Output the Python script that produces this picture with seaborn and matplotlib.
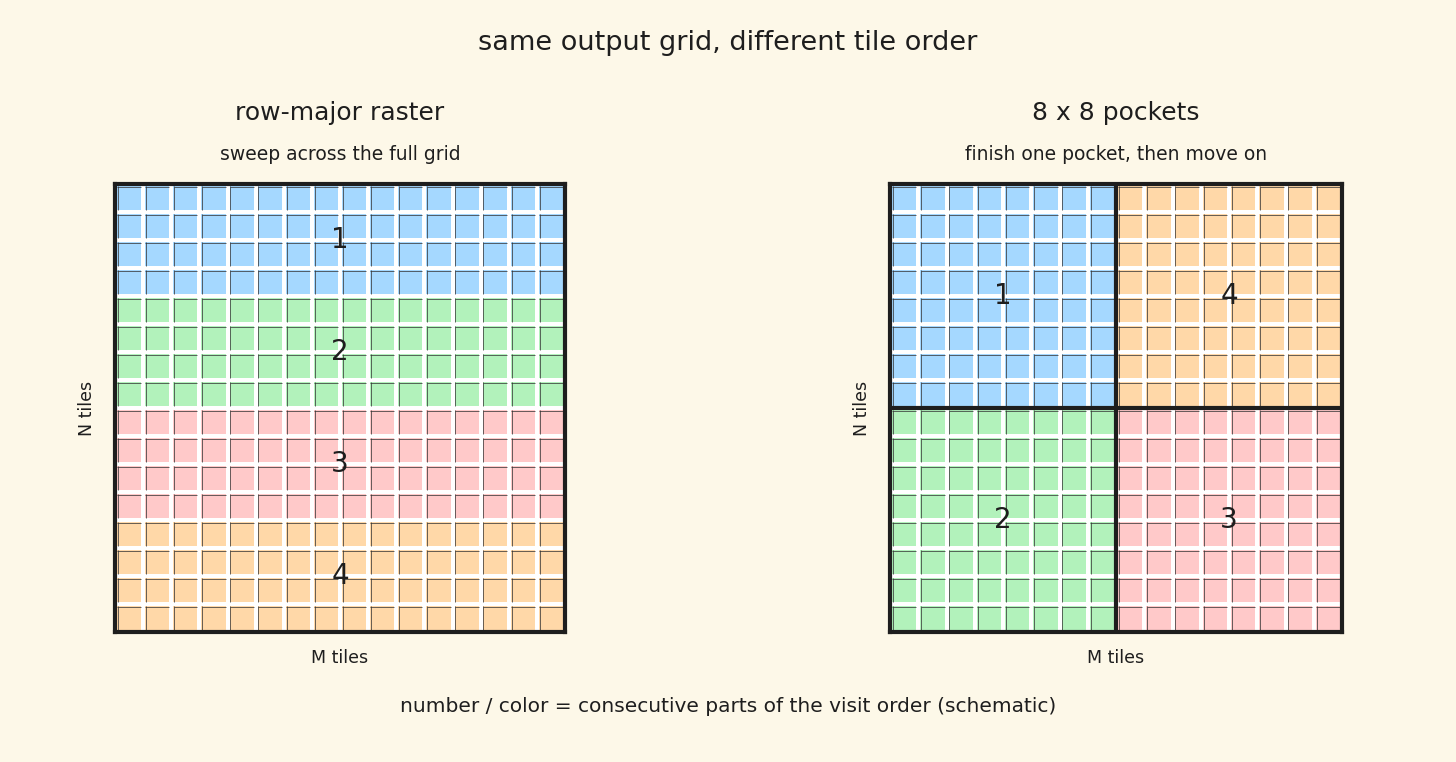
import numpy as np
import matplotlib
matplotlib.use("Agg")
import matplotlib.pyplot as plt
from matplotlib.colors import ListedColormap
import seaborn as sns

# chart data
n_tiles = 16
band_rows = 4          # left: 4 consecutive rows per part
pocket = 8             # right: 8 x 8 pockets
part_labels = ["1", "2", "3", "4"]
part_colors = ["#a5d8ff", "#b2f2bb", "#ffc9c9", "#ffd8a8"]
# pocket visit order: (row block, col block) for parts 1..4
pocket_order = [(0, 0), (1, 0), (1, 1), (0, 1)]

title = "same output grid, different tile order"
panel_titles = ["row-major raster", "8 x 8 pockets"]
panel_subtitles = ["sweep across the full grid", "finish one pocket, then move on"]
x_label = "M tiles"
y_label = "N tiles"
footer = "number / color = consecutive parts of the visit order (schematic)"

bg = "#fdf8e8"
ink = "#1e1e1e"

# part index per tile
raster = np.repeat(np.arange(4), band_rows)[:, None] * np.ones((1, n_tiles), dtype=int)
pockets = np.zeros((n_tiles, n_tiles), dtype=int)
for k, (r, c) in enumerate(pocket_order):
    pockets[r * pocket:(r + 1) * pocket, c * pocket:(c + 1) * pocket] = k

sns.set_theme(style="white")
plt.rcParams["font.family"] = ["DejaVu Sans"]

fig = plt.figure(figsize=(14.56, 7.62), dpi=100, facecolor=bg)
ax_l = fig.add_axes([115 / 1456, 1 - 632 / 762, 450 / 1456, 448 / 762])
ax_r = fig.add_axes([890 / 1456, 1 - 632 / 762, 452 / 1456, 448 / 762])

cmap = ListedColormap(part_colors)


def draw_grid(ax, grid):
    sns.heatmap(grid, ax=ax, cmap=cmap, vmin=-0.5, vmax=3.5, cbar=False,
                linewidths=2.8, linecolor="white", square=False,
                xticklabels=False, yticklabels=False)
    # sketchy dark edge on top/left of each tile
    xs = np.arange(n_tiles)
    for i in range(n_tiles):
        ax.vlines(xs + 0.1, i + 0.08, i + 0.93, color="#333333", lw=0.7, alpha=0.75)
        ax.hlines(np.full(n_tiles, i + 0.1), xs + 0.08, xs + 0.93,
                  color="#333333", lw=0.7, alpha=0.75)
    ax.set_xlim(0, n_tiles)
    ax.set_ylim(n_tiles, 0)
    for s in ax.spines.values():
        s.set_visible(True)
        s.set_color(ink)
        s.set_linewidth(3)
    ax.set_xlabel(x_label, fontsize=12.5, color=ink, labelpad=12)
    ax.set_ylabel(y_label, fontsize=12.5, color=ink, labelpad=14)


draw_grid(ax_l, raster)
for k, lab in enumerate(part_labels):
    ax_l.text(n_tiles / 2, k * band_rows + band_rows / 2, lab, ha="center", va="center",
              fontsize=20, color=ink)

draw_grid(ax_r, pockets)
ax_r.axvline(pocket, color=ink, lw=3)
ax_r.axhline(pocket, color=ink, lw=3)
for k, (r, c) in enumerate(pocket_order):
    ax_r.text(c * pocket + pocket / 2, r * pocket + pocket / 2, part_labels[k],
              ha="center", va="center", fontsize=20, color=ink)

for ax, t, st in zip([ax_l, ax_r], panel_titles, panel_subtitles):
    cx = (ax.get_position().x0 + ax.get_position().x1) / 2
    fig.text(cx, 1 - 113 / 762, t, ha="center", va="center", fontsize=18, color=ink)
    fig.text(cx, 1 - 154 / 762, st, ha="center", va="center", fontsize=13.5, color=ink)

fig.text(0.5, 1 - 43 / 762, title, ha="center", va="center", fontsize=19.5, color=ink)
fig.text(728 / 1456, 1 - 707 / 762, footer, ha="center", va="center", fontsize=14.5, color=ink)

fig.savefig("out.png", dpi=100, facecolor=bg)
